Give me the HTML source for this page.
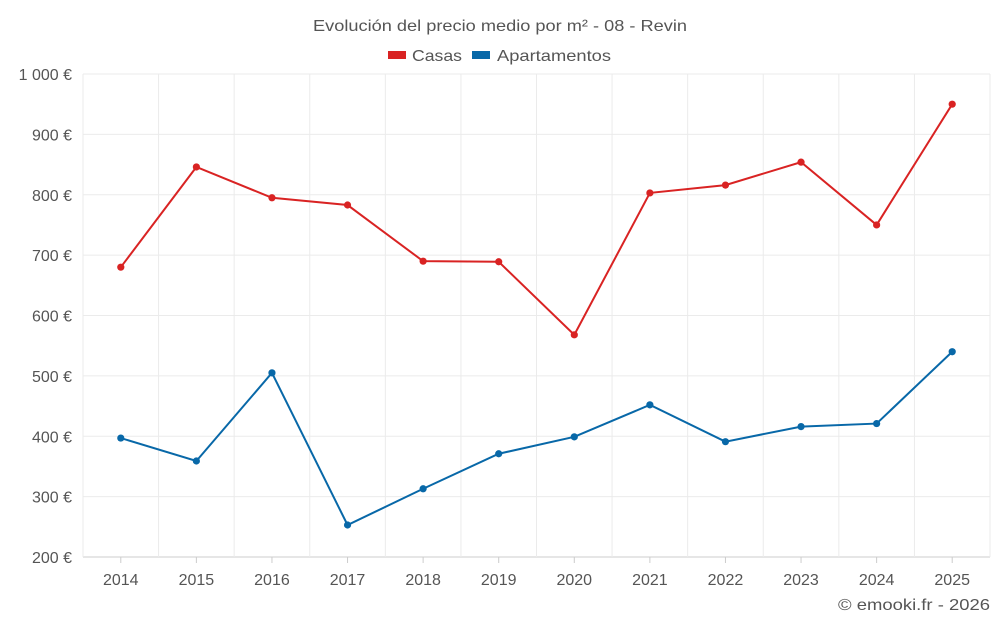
<!DOCTYPE html>
<html><head><meta charset="utf-8">
<style>
body{margin:0;background:#fff;font-family:"Liberation Sans",sans-serif;}
svg text{font-family:"Liberation Sans",sans-serif;}
</style></head>
<body>
<svg id="chart" width="1000" height="625">
<text x="313" y="31" textLength="374" lengthAdjust="spacingAndGlyphs" font-size="16" fill="#555">Evolución del precio medio por m² - 08 - Revin</text>
<g>
<g><rect x="388" y="51" width="18" height="8" fill="#d92323"/><text x="412" y="61" textLength="50" lengthAdjust="spacingAndGlyphs" font-size="16" fill="#555">Casas</text></g>
<g><rect x="472" y="51" width="18" height="8" fill="#0868a8"/><text x="497" y="61" textLength="114" lengthAdjust="spacingAndGlyphs" font-size="16" fill="#555">Apartamentos</text></g>
</g>
<g id="grid"></g><g id="axes"></g><g id="series"></g>
<text x="838" y="610" textLength="152" lengthAdjust="spacingAndGlyphs" font-size="16" fill="#555">© emooki.fr - 2026</text>
</svg>
<script>
const years=["2014","2015","2016","2017","2018","2019","2020","2021","2022","2023","2024","2025"];
const casas=[680,846,795,783,690,689,568,803,816,854,750,950];
const apartamentos=[397,359,505,253,313,371,399,452,391,416,421,540];
const yTicks=[200,300,400,500,600,700,800,900,1000];
const yLabels=["200 €","300 €","400 €","500 €","600 €","700 €","800 €","900 €","1 000 €"];
const NS="http://www.w3.org/2000/svg";
const L=83,R=990,T=74,B=557,ymin=200,ymax=1000;
const bw=(R-L)/years.length;
const x=i=>L+bw*(i+0.5);
const y=v=>B-(v-ymin)/(ymax-ymin)*(B-T);
function mk(t,a,p){const e=document.createElementNS(NS,t);for(const k in a)e.setAttribute(k,a[k]);p.appendChild(e);return e;}
const grid=document.getElementById('grid'),axes=document.getElementById('axes'),ser=document.getElementById('series');
yTicks.forEach((v,i)=>{
 const g=mk('line',{x1:L,x2:R,y1:y(v),y2:y(v),stroke:i==0?'#ccc':'#ebebeb','stroke-width':1},grid);
 
 
 const t=mk('text',{x:72,y:y(v)+6,'text-anchor':'end','font-size':16,fill:'#555'},axes);
 t.textContent=yLabels[i];
 
 
});
for(let i=0;i<=years.length;i++){
 const g=mk('line',{x1:L+bw*i,x2:L+bw*i,y1:T,y2:B,stroke:'#ebebeb','stroke-width':1},grid);
 
 
}
years.forEach((yr,i)=>{
 const tk=mk('line',{x1:x(i),x2:x(i),y1:B,y2:B+6,stroke:'#ccc'},axes);
 
 
 const t=mk('text',{x:x(i),y:585,'text-anchor':'middle','font-size':16,fill:'#555'},axes);
 t.textContent=yr;
 
 
});
function draw(data,color,name){
 const p=mk('polyline',{points:data.map((v,i)=>x(i)+','+y(v)).join(' '),fill:'none',stroke:color,'stroke-width':2},ser);
 
 
 data.forEach((v,i)=>{
  const c=mk('circle',{cx:x(i),cy:y(v),r:3.6,fill:color},ser);
  
  
 });
}
draw(casas,'#d92323','casas');
draw(apartamentos,'#0868a8','apartamentos');
</script>
</body></html>
